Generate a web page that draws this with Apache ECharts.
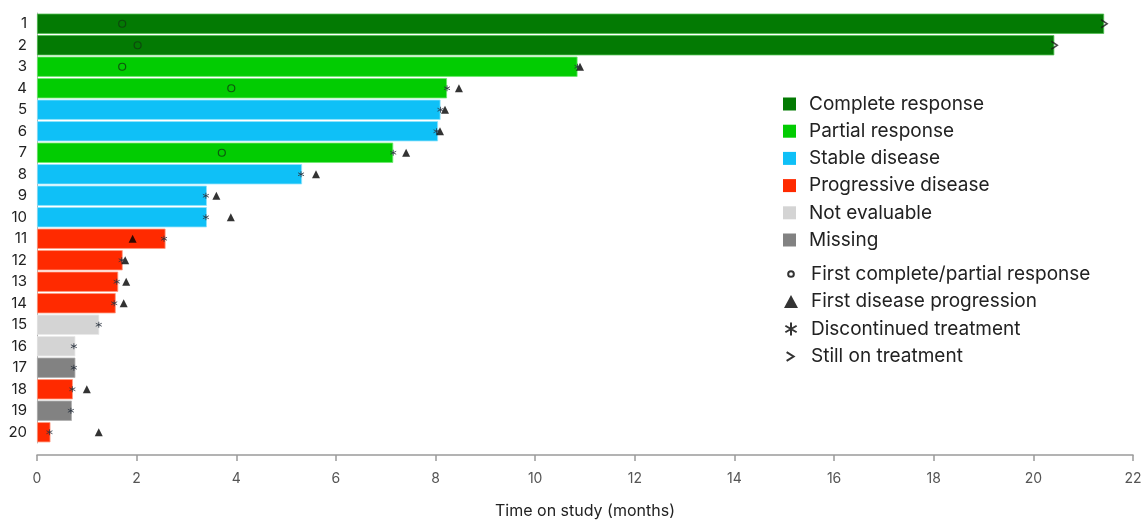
<!DOCTYPE html>
<html>
<head>
<meta charset="utf-8">
<script src="https://cdn.jsdelivr.net/npm/echarts@6/dist/echarts.min.js"></script>
<style>
  html, body { margin: 0; padding: 0; background: #fff; }
  #chart { width: 1146px; height: 524px; }
</style>
</head>
<body>
<div id="chart"></div>
<script>
// Patients, top to bottom
const patients = ['1','2','3','4','5','6','7','8','9','10','11','12','13','14','15','16','17','18','19','20'];
// Time on study (months) for each patient
const timeOnStudy = [21.42, 20.42, 10.85, 8.23, 8.1, 8.05, 7.15, 5.32, 3.41, 3.41, 2.58, 1.72, 1.63, 1.58, 1.25, 0.77, 0.77, 0.72, 0.70, 0.27];
// Best overall response per patient
const bestResponse = ['CR','CR','PR','PR','SD','SD','PR','SD','SD','SD','PD','PD','PD','PD','NE','NE','MS','PD','MS','PD'];

const responseKeys   = ['CR', 'PR', 'SD', 'PD', 'NE', 'MS'];
const responseNames  = ['Complete response', 'Partial response', 'Stable disease', 'Progressive disease', 'Not evaluable', 'Missing'];
const responseColors = ['#037a03', '#02cc02', '#0fc0f7', '#ff2a00', '#d4d4d4', '#828282'];
const responseBorders = ['#4fbf4f', '#6ee86e', '#8fe3fb', '#ff9a80', '#e8e8e8', '#b0b0b0'];

// Event markers: [months, patient index]
const firstResponse = [[1.71, 0], [2.02, 1], [1.71, 2], [3.9, 3], [3.71, 6]];
const firstProgression = [[10.9, 2], [8.47, 3], [8.19, 4], [8.09, 5], [7.41, 6], [5.6, 7], [3.6, 8], [3.89, 9],
  [1.92, 10], [1.77, 11], [1.79, 12], [1.74, 13], [1.0, 17], [1.24, 19]];
const discontinued = [[10.85, 2], [8.23, 3], [8.1, 4], [8.02, 5], [7.15, 6], [5.3, 7], [3.39, 8], [3.39, 9],
  [2.55, 10], [1.7, 11], [1.6, 12], [1.55, 13], [1.24, 14], [0.74, 15], [0.74, 16], [0.71, 17], [0.68, 18], [0.25, 19]];
const stillOnTreatment = [[21.42, 0], [20.42, 1]];

// X-axis ticks
const xMin = 0, xMax = 22, xStep = 2;

const FONT = 'Inter';
const ASTERISK = 'path://M5,0L5,10M0.67,2.5L9.33,7.5M0.67,7.5L9.33,2.5';
const CHEVRON = 'path://M0,0L8,5L0,10';
const CHEVRON_LEGEND = 'path://M-3,-2M13,12M0,0L8,5L0,10';
const CIRCLE_LEGEND = 'path://M-3,-3M13,13M5,1.5A3.5,3.5 0 1 1 5,8.5A3.5,3.5 0 1 1 5,1.5Z';

const barSeries = responseKeys.map((key, k) => ({
  name: responseNames[k],
  type: 'bar',
  barWidth: '94%',
  barGap: '-100%',
  itemStyle: { color: responseColors[k], borderColor: responseBorders[k], borderWidth: 0.8 },
  data: timeOnStudy.map((v, i) => bestResponse[i] === key ? v : null),
  z: 2
}));

const markerSeries = [
  {
    name: 'First complete/partial response',
    type: 'scatter',
    symbol: 'circle',
    symbolSize: 7,
    itemStyle: { color: 'rgba(0,0,0,0)', borderColor: '#103d10', borderWidth: 1.2 },
    data: firstResponse, z: 5
  },
  {
    name: 'First disease progression',
    type: 'scatter',
    symbol: 'triangle',
    symbolSize: [8, 8],
    itemStyle: { color: '#000' },
    data: firstProgression, z: 5
  },
  {
    name: 'Discontinued treatment',
    type: 'scatter',
    symbol: ASTERISK,
    symbolSize: 6,
    itemStyle: { color: 'rgba(0,0,0,0)', borderColor: '#2a3340', borderWidth: 1 },
    data: discontinued, z: 5
  },
  {
    name: 'Still on treatment',
    type: 'scatter',
    symbol: CHEVRON,
    symbolSize: [6, 8],
    itemStyle: { color: 'rgba(0,0,0,0)', borderColor: '#1a1a1a', borderWidth: 1.5 },
    data: stillOnTreatment, z: 5
  }
];

const legendText = { color: '#222', fontSize: 19, fontFamily: FONT, lineHeight: 20, padding: [0, 0, 0, 8] };
const strokeIcon = { color: 'rgba(0,0,0,0)', borderColor: '#000', borderWidth: 2 };

const chart = echarts.init(document.getElementById('chart'), null, { renderer: 'canvas' });
chart.setOption({
  animation: false,
  backgroundColor: '#ffffff',
  textStyle: { fontFamily: FONT },
  grid: { left: 37, right: 13, top: 13, bottom: 80, containLabel: false },
  xAxis: {
    type: 'value',
    min: xMin, max: xMax, interval: xStep,
    offset: 12,
    splitLine: { show: false },
    axisLine: { show: true, lineStyle: { color: '#9a9a9a', width: 1.5 } },
    axisTick: { show: true, length: 6, lineStyle: { color: '#9a9a9a', width: 1.5 } },
    axisLabel: { color: '#555', fontSize: 14, fontFamily: FONT, margin: 17 },
    name: 'Time on study (months)',
    nameLocation: 'middle',
    nameGap: 48,
    nameTextStyle: { color: '#222', fontSize: 16, fontFamily: FONT }
  },
  yAxis: {
    type: 'category',
    inverse: true,
    data: patients,
    axisLine: { show: true, lineStyle: { color: '#b5b5b5', width: 1 } },
    axisTick: { show: false },
    axisLabel: { color: '#222', fontSize: 15, fontFamily: FONT, margin: 10 }
  },
  legend: [
    {
      data: responseNames,
      orient: 'vertical',
      left: 778, top: 89,
      icon: 'rect',
      itemWidth: 13, itemHeight: 13,
      itemGap: 7.2,
      itemStyle: { borderWidth: 0 },
      textStyle: legendText,
      selectedMode: false
    },
    {
      data: [
        { name: 'First complete/partial response', icon: CIRCLE_LEGEND, itemStyle: strokeIcon },
        { name: 'First disease progression', icon: 'triangle', itemStyle: { color: '#000', borderWidth: 0 } },
        { name: 'Discontinued treatment', icon: ASTERISK, itemStyle: strokeIcon },
        { name: 'Still on treatment', icon: CHEVRON_LEGEND, itemStyle: strokeIcon }
      ],
      orient: 'vertical',
      left: 778, top: 259,
      itemWidth: 14, itemHeight: 13,
      itemGap: 7.5,
      textStyle: legendText,
      selectedMode: false
    }
  ],
  series: barSeries.concat(markerSeries)
});
</script>
</body>
</html>
